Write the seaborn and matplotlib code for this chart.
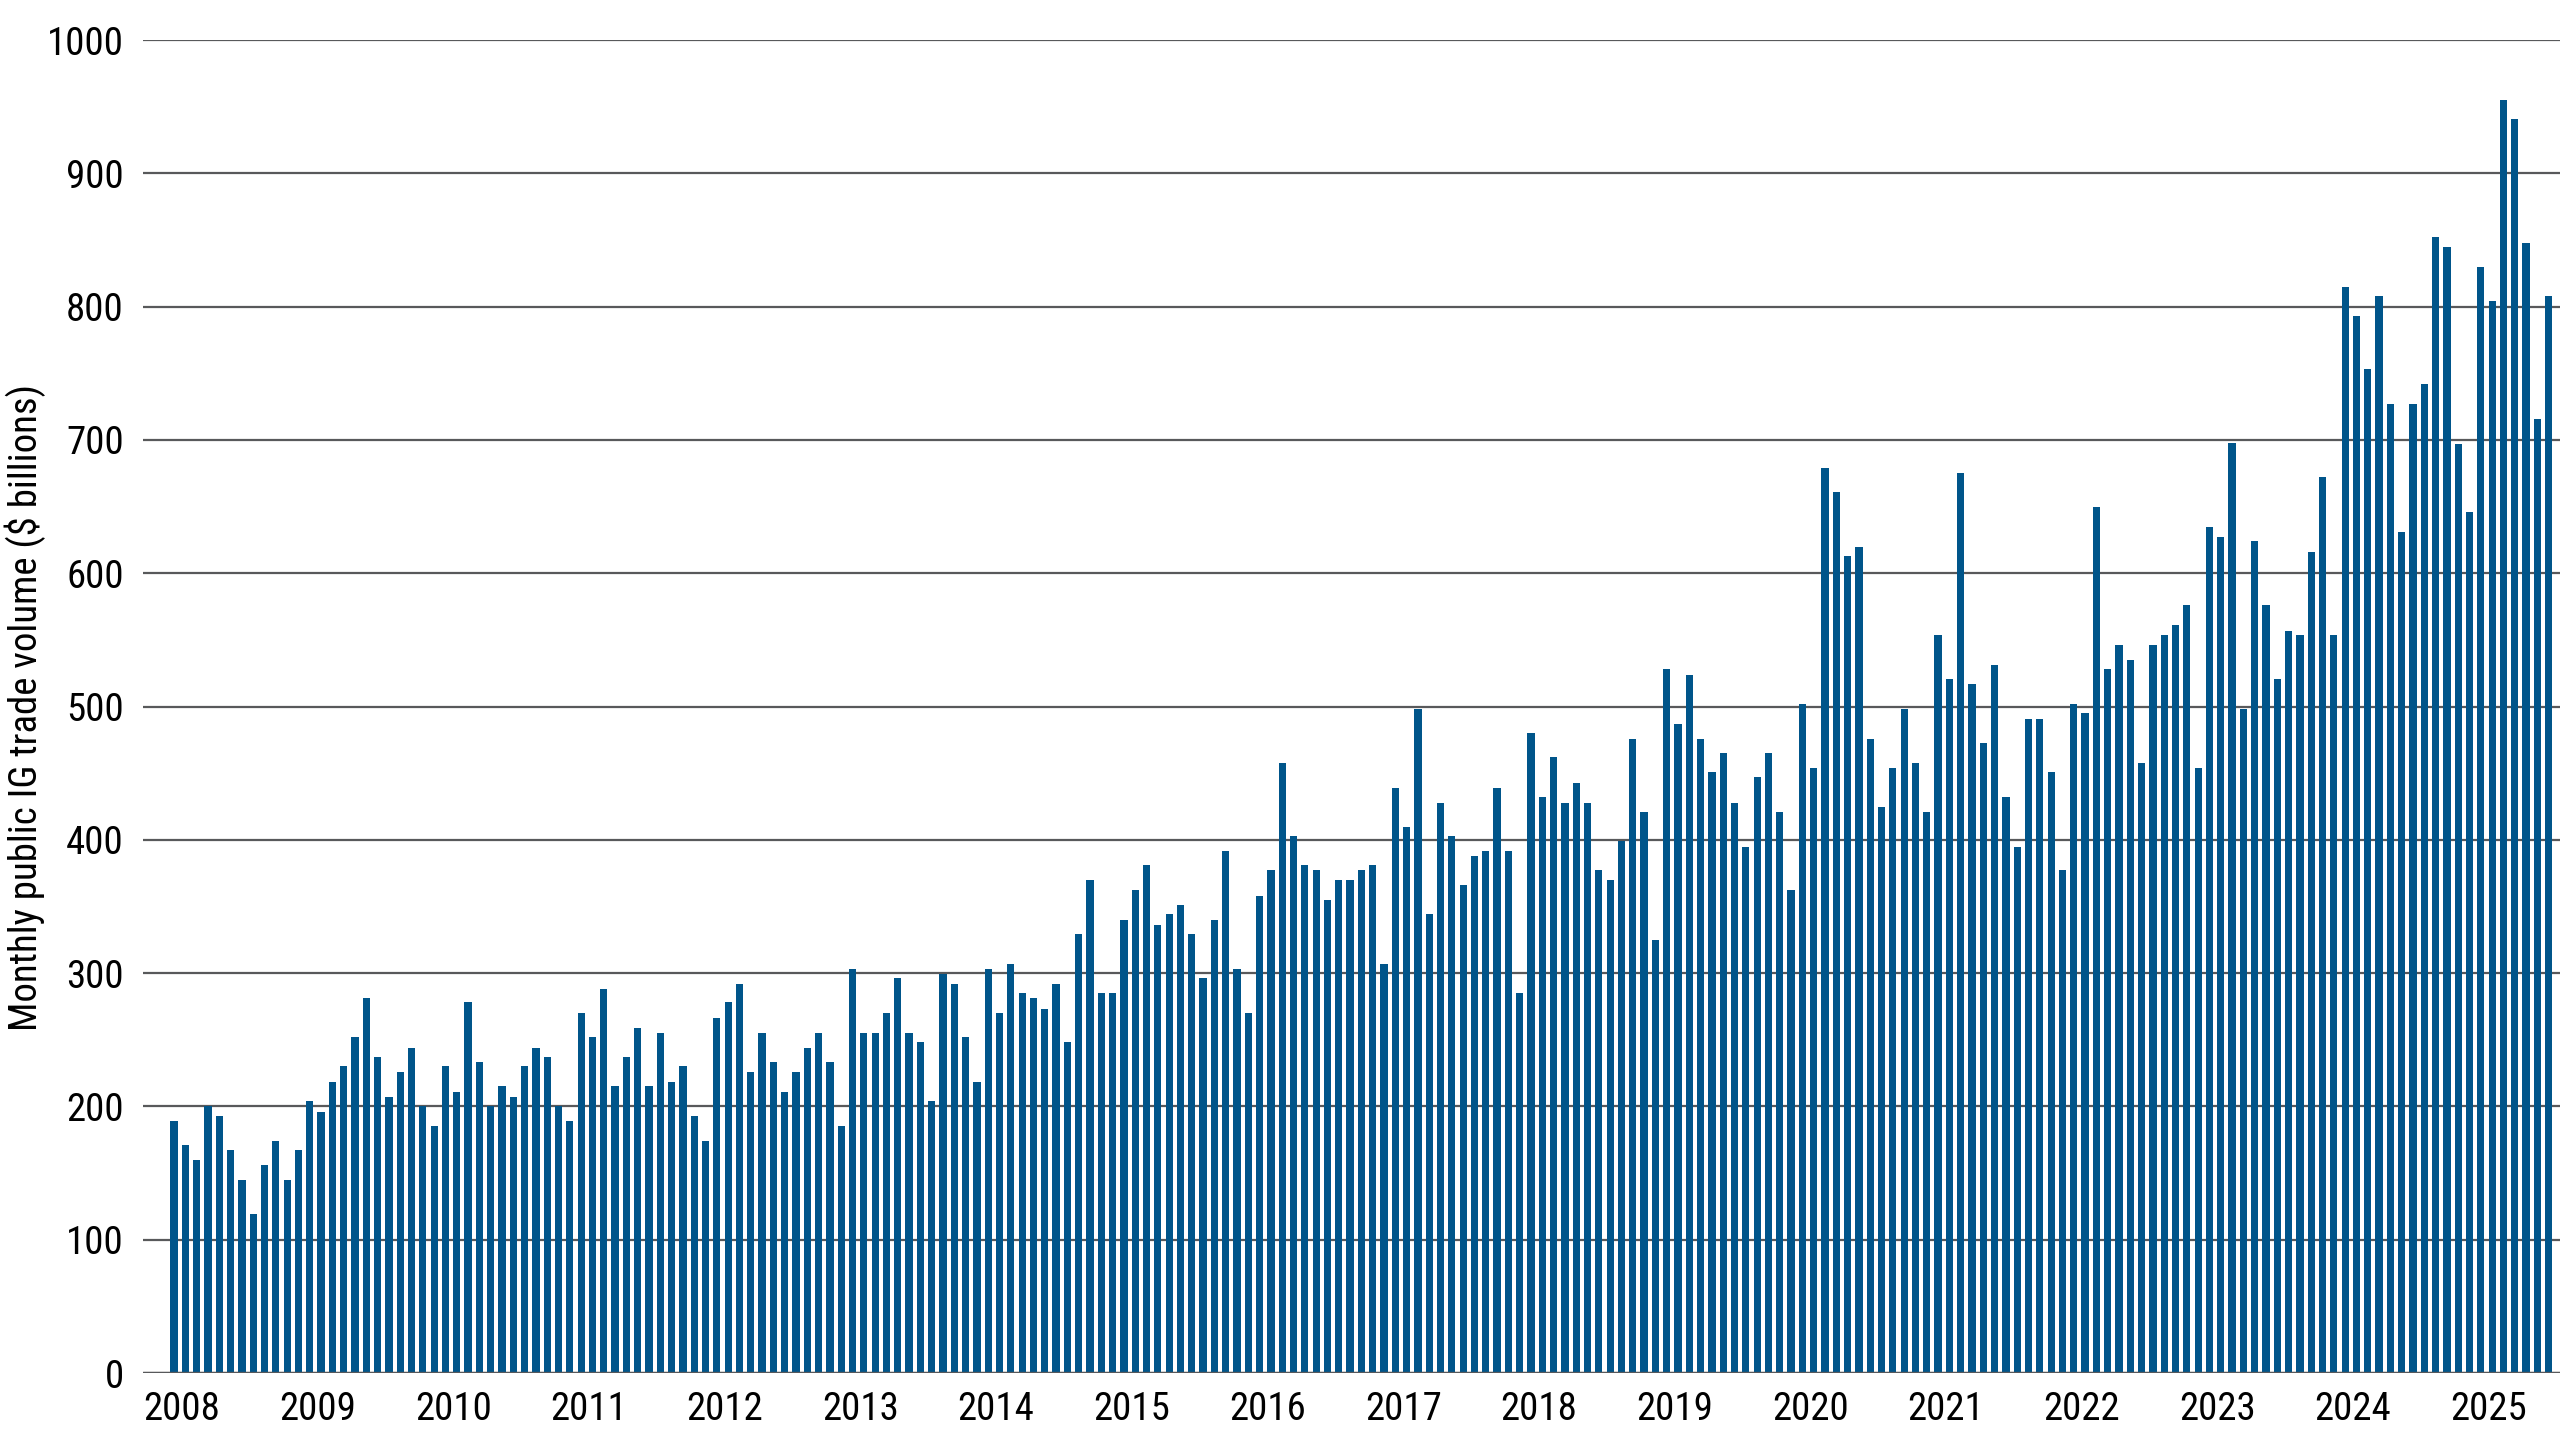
import numpy as np
import pandas as pd
import matplotlib
matplotlib.use("Agg")
import matplotlib.pyplot as plt
import seaborn as sns
from matplotlib import font_manager

# monthly public IG trade volume, $ billions, Jan 2008 - Jul 2025
v2008 = [189, 171, 160, 200, 193, 167, 145, 119, 156, 174, 145, 167]
v2009 = [204, 196, 218, 230, 252, 281, 237, 207, 226, 244, 200, 185]
v2010 = [230, 211, 278, 233, 200, 215, 207, 230, 244, 237, 200, 189]
v2011 = [270, 252, 288, 215, 237, 259, 215, 255, 218, 230, 193, 174]
v2012 = [266, 278, 292, 226, 255, 233, 211, 226, 244, 255, 233, 185]
v2013 = [303, 255, 255, 270, 296, 255, 248, 204, 299, 292, 252, 218]
v2014 = [303, 270, 307, 285, 281, 273, 292, 248, 329, 370, 285, 285]
v2015 = [340, 362, 381, 336, 344, 351, 329, 296, 340, 392, 303, 270]
v2016 = [358, 377, 458, 403, 381, 377, 355, 370, 370, 377, 381, 307]
v2017 = [439, 410, 498, 344, 428, 403, 366, 388, 392, 439, 392, 285]
v2018 = [480, 432, 462, 428, 443, 428, 377, 370, 399, 476, 421, 325]
v2019 = [528, 487, 524, 476, 451, 465, 428, 395, 447, 465, 421, 362]
v2020 = [502, 454, 679, 661, 613, 620, 476, 425, 454, 498, 458, 421]
v2021 = [554, 521, 675, 517, 473, 531, 432, 395, 491, 491, 451, 377]
v2022 = [502, 495, 650, 528, 546, 535, 458, 546, 554, 561, 576, 454]
v2023 = [635, 627, 698, 498, 624, 576, 521, 557, 554, 616, 672, 554]
v2024 = [815, 793, 753, 808, 727, 631, 727, 742, 852, 845, 697, 646]
v2025 = [830, 804, 955, 941, 848, 716, 808]

years = list(range(2008, 2026))
volume = (v2008 + v2009 + v2010 + v2011 + v2012 + v2013 + v2014 + v2015 + v2016
          + v2017 + v2018 + v2019 + v2020 + v2021 + v2022 + v2023 + v2024 + v2025)

df = pd.DataFrame({"month": np.arange(len(volume)), "volume": volume})

sns.set_theme(style="white")
# narrow font if we have one
names = {f.name for f in font_manager.fontManager.ttflist}
fams = [f for f in ["Roboto Condensed", "Liberation Sans Narrow", "Roboto"] if f in names]
plt.rcParams["font.family"] = fams + ["DejaVu Sans"]

bar_color = "#00558a"
grid_color = "#58595b"

fig = plt.figure(figsize=(25.6, 14.4), dpi=100)
ax = fig.add_axes([0.0559, 0.0465, 0.9441, 0.9257])

sns.barplot(data=df, x="month", y="volume", color=bar_color, saturation=1,
            width=0.64, linewidth=0, ax=ax)

ax.set_ylim(0, 1000)
ax.set_xlim(-2.74, len(volume))
ax.set_yticks(range(0, 1001, 100))
ax.yaxis.grid(True, color=grid_color, linewidth=1.6)
ax.set_axisbelow(True)
ax.axhline(0, color=grid_color, linewidth=2.4, zorder=3)
for s in ax.spines.values():
    s.set_visible(False)

ax.set_xticks([12 * k + 0.7 for k in range(len(years))])
ax.set_xticklabels([str(y) for y in years])
ax.tick_params(axis="both", length=0, labelsize=28, colors="black")
ax.tick_params(axis="y", pad=14)
ax.tick_params(axis="x", pad=13)
ax.set_xlabel("")
ax.set_ylabel("")

fig.text(0.0098, 0.509, "Monthly public IG trade volume ($ billions)",
         rotation=90, ha="center", va="center", fontsize=28, color="black")

fig.savefig("out.png", dpi=100)
